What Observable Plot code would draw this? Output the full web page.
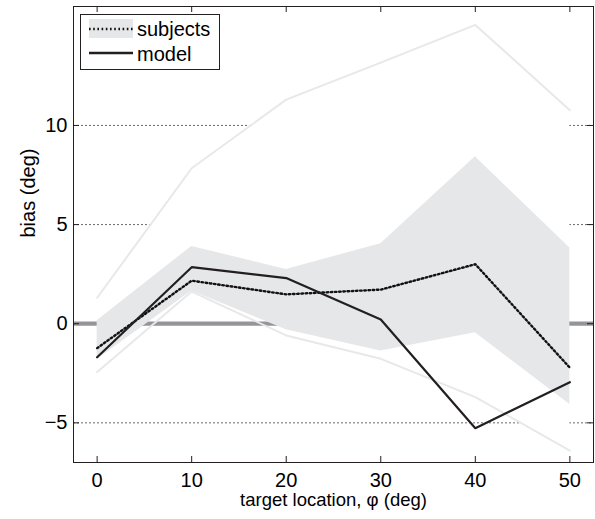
<!DOCTYPE html>
<html>
<head>
<meta charset="utf-8">
<script src="https://cdn.jsdelivr.net/npm/d3@7"></script>
<script src="https://cdn.jsdelivr.net/npm/@observablehq/plot@0.6"></script>
<style>
  html, body { margin: 0; padding: 0; background: #fff; }
  #chart { width: 595px; height: 519px; }
</style>
</head>
<body>
<div id="chart"></div>
<script>
// ---- data ----
const locations    = [0, 10, 20, 30, 40, 50];            // target location, phi (deg)
const subjectsMean = [-1.23, 2.17, 1.48, 1.72, 3.0, -2.22];
const modelBias    = [-1.69, 2.85, 2.30, 0.21, -5.27, -2.95];
const bandHigh     = [0.15, 3.9, 2.74, 4.03, 8.42, 3.82];  // subjects spread (upper)
const bandLow      = [-1.8, 1.65, -0.3, -1.37, -0.45, -4.08]; // subjects spread (lower)
const subjectsMax  = [1.31, 7.84, 11.3, 13.17, 15.07, 10.77];
const subjectsMin  = [-2.44, 1.62, -0.59, -1.77, -3.7, -6.4];
const xTicks = [0, 10, 20, 30, 40, 50];
const yTicks = [-5, 0, 5, 10];
const gridValues = [-5, 5, 10];
const xLabel = "target location, \u03c6 (deg)";
const yLabel = "bias (deg)";
const legendLabels = ["subjects", "model"];

const rows = locations.map((x, i) => ({
  x, mean: subjectsMean[i], model: modelBias[i],
  hi: bandHigh[i], lo: bandLow[i], max: subjectsMax[i], min: subjectsMin[i]
}));

const W = 595, H = 519;
const mL = 73, mR = 2, mT = 6, mB = 57;
const plotW = W - mL - mR, plotH = H - mT - mB;
const tickLen = 6;
const font = "'Liberation Sans', Arial, Helvetica, sans-serif";
const ink = "#231f20";
const dots = "1.6,2.6";

const svg = Plot.plot({
  width: W, height: H,
  marginLeft: mL, marginRight: mR, marginTop: mT, marginBottom: mB,
  style: { fontFamily: font, fontSize: "20px", color: "#000", background: "#fff", overflow: "visible" },
  x: { domain: [-2.5, 52.5] },
  y: { domain: [-7, 16] },
  marks: [
    Plot.ruleY(gridValues, { stroke: "#444", strokeWidth: 0.8, strokeDasharray: "2,2" }),
    Plot.areaY(rows, { x: "x", y1: "min", y2: "max", fill: "#fff" }),
    Plot.ruleY([0], { stroke: "#939598", strokeWidth: 4.3 }),
    Plot.areaY(rows, { x: "x", y1: "lo", y2: "hi", fill: "#e6e7e8" }),
    Plot.lineY(rows, { x: "x", y: "max", stroke: "#e8e8e9", strokeWidth: 2 }),
    Plot.lineY(rows, { x: "x", y: "min", stroke: "#e8e8e9", strokeWidth: 2 }),
    Plot.lineY(rows, { x: "x", y: "mean", stroke: "#111", strokeWidth: 2.4, strokeDasharray: dots }),
    Plot.lineY(rows, { x: "x", y: "model", stroke: ink, strokeWidth: 2.2 }),
    Plot.frame({ stroke: ink, strokeWidth: 1 }),
    // inward ticks on all four sides
    Plot.tickX(xTicks, { x: d => d, stroke: ink, insetTop: plotH - tickLen }),
    Plot.tickX(xTicks, { x: d => d, stroke: ink, insetBottom: plotH - tickLen }),
    Plot.tickY(yTicks, { y: d => d, stroke: ink, insetRight: plotW - tickLen }),
    Plot.tickY(yTicks, { y: d => d, stroke: ink, insetLeft: plotW - tickLen }),
    Plot.axisX(xTicks, { tickSize: 0, tickPadding: 10, fontSize: 20, label: null, tickFormat: d => String(d) }),
    Plot.axisY(yTicks, { tickSize: 0, tickPadding: 6, fontSize: 20, label: null,
      tickFormat: d => (d < 0 ? "\u2212" + Math.abs(d) : String(d)) }),
    Plot.text([xLabel], { text: d => d, frameAnchor: "bottom", dy: 38, lineAnchor: "middle",
      fontSize: 18.5, fill: "#000" }),
    Plot.text([yLabel], { text: d => d, frameAnchor: "left", dx: -45, dy: 3, rotate: -90,
      lineAnchor: "middle", fontSize: 20, fill: "#000" })
  ]
});

// legend box (top-left, inside plot)
const lg = d3.select(svg).append("g").attr("font-family", font).attr("font-size", 20)
  .attr("text-anchor", "start");
lg.append("rect").attr("x", 80.5).attr("y", 14.5).attr("width", 139).attr("height", 55)
  .attr("fill", "#fff").attr("stroke", ink).attr("stroke-width", 1);
lg.append("rect").attr("x", 89).attr("y", 19).attr("width", 44).attr("height", 19).attr("fill", "#e6e7e8");
lg.append("line").attr("x1", 89).attr("x2", 133).attr("y1", 29).attr("y2", 29)
  .attr("stroke", "#111").attr("stroke-width", 2.4).attr("stroke-dasharray", dots);
lg.append("line").attr("x1", 89).attr("x2", 133).attr("y1", 53).attr("y2", 53)
  .attr("stroke", ink).attr("stroke-width", 2.4);
lg.append("text").attr("x", 137).attr("y", 36).attr("fill", "#000").text(legendLabels[0]);
lg.append("text").attr("x", 137).attr("y", 61).attr("fill", "#000").text(legendLabels[1]);

document.getElementById("chart").appendChild(svg);
</script>
</body>
</html>
